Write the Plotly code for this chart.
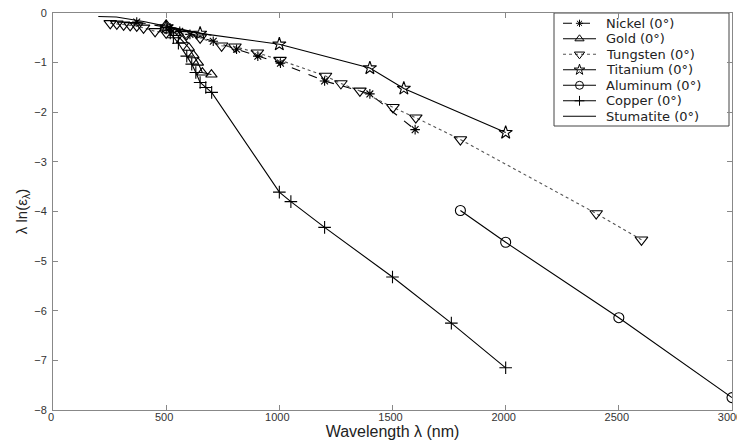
import plotly.graph_objects as go

# ---- data (wavelength nm, lambda*ln(eps)) ----
nickel_x = [370, 517, 560, 605, 708, 811, 905, 1005, 1200, 1400, 1600]
nickel_y = [-0.18, -0.30, -0.37, -0.43, -0.57, -0.73, -0.87, -1.01, -1.37, -1.63, -2.35]

gold_x = [500, 540, 570, 600, 620, 640, 660, 700]
gold_y = [-0.24, -0.40, -0.55, -0.70, -0.85, -1.00, -1.20, -1.24]

tungsten_x = [253, 282, 312, 341, 370, 400, 451, 500, 591, 650, 745, 804, 903, 1003, 1204, 1272, 1356, 1502, 1603, 1800, 2400, 2600]
tungsten_y = [-0.21, -0.22, -0.24, -0.25, -0.26, -0.30, -0.37, -0.40, -0.43, -0.50, -0.66, -0.68, -0.80, -0.95, -1.27, -1.42, -1.57, -1.90, -2.11, -2.55, -4.04, -4.57]

titanium_x = [500, 650, 1000, 1400, 1550, 2000]
titanium_y = [-0.28, -0.41, -0.63, -1.11, -1.52, -2.41]

aluminum_x = [1800, 2000, 2500, 3000]
aluminum_y = [-3.98, -4.62, -6.14, -7.75]

copper_x = [500, 518, 532, 554, 591, 613, 631, 650, 675, 701, 1000, 1051, 1200, 1500, 1760, 2000]
copper_y = [-0.30, -0.40, -0.50, -0.61, -0.87, -1.03, -1.20, -1.40, -1.50, -1.60, -3.61, -3.80, -4.32, -5.32, -6.25, -7.15]

stumatite_x = [200, 280, 400, 500, 600, 700]
stumatite_y = [-0.07, -0.08, -0.17, -0.27, -0.36, -0.45]

series_names = ["Nickel (0°)", "Gold (0°)", "Tungsten (0°)", "Titanium (0°)",
                "Aluminum (0°)", "Copper (0°)", "Stumatite (0°)"]

x_ticks = [0, 500, 1000, 1500, 2000, 2500, 3000]
y_ticks = [0, -1, -2, -3, -4, -5, -6, -7, -8]

# ---- styles ----
styles = [
    dict(symbol="asterisk-open", dash="dash", lcolor="black", size=8),
    dict(symbol="triangle-up-open", dash="solid", lcolor="black", size=10),
    dict(symbol="triangle-down-open", dash="dot", lcolor="#555555", size=11),
    dict(symbol="star-open", dash="solid", lcolor="black", size=10),
    dict(symbol="circle-open", dash="solid", lcolor="black", size=10),
    dict(symbol="cross-thin-open", dash="solid", lcolor="black", size=9),
    dict(symbol=None, dash="solid", lcolor="black", size=0),
]
data = [(nickel_x, nickel_y), (gold_x, gold_y), (tungsten_x, tungsten_y),
        (titanium_x, titanium_y), (aluminum_x, aluminum_y), (copper_x, copper_y),
        (stumatite_x, stumatite_y)]

fig = go.Figure()

for name, (x, y), st in zip(series_names, data, styles):
    if st["symbol"]:
        fig.add_trace(go.Scatter(
            x=x, y=y, name=name, mode="lines+markers", showlegend=False,
            line=dict(color=st["lcolor"], width=1.1, dash=st["dash"]),
            marker=dict(symbol=st["symbol"], size=st["size"], color="black",
                        line=dict(color="black", width=1.1)),
        ))
    else:
        fig.add_trace(go.Scatter(x=x, y=y, name=name, mode="lines", showlegend=False,
                                 line=dict(color="black", width=1.1)))

# ---- legend drawn on an overlay axis in (page) pixel units ----
PLOT_L, PLOT_R, PLOT_T, PLOT_B = 53, 732, 13, 410
L_X0, L_X1, L_Y0, L_Y1 = 554, 729, 13, 126
row_y = [23.3, 38.8, 54.3, 69.8, 85.3, 100.8, 116.3]
fig.add_shape(type="rect", xref="x2", yref="y2", x0=L_X0, x1=L_X1, y0=L_Y0, y1=L_Y1,
              line=dict(color="#444444", width=1), fillcolor="white", layer="below")
for name, st, ry in zip(series_names, styles, row_y):
    fig.add_trace(go.Scatter(
        x=[563, 596], y=[ry, ry], xaxis="x2", yaxis="y2", mode="lines",
        line=dict(color=st["lcolor"], width=1.1, dash=st["dash"]),
        showlegend=False, hoverinfo="skip", cliponaxis=False))
    if st["symbol"]:
        fig.add_trace(go.Scatter(
            x=[579.5], y=[ry], xaxis="x2", yaxis="y2", mode="markers",
            marker=dict(symbol=st["symbol"], size=st["size"] - 2, color="black",
                        line=dict(color="black", width=1.0)),
            showlegend=False, hoverinfo="skip", cliponaxis=False))
    fig.add_annotation(x=605, y=ry, xref="x2", yref="y2", text=name, showarrow=False,
                       xanchor="left", yanchor="middle", borderpad=0,
                       font=dict(family="DejaVu Sans", size=13, color="#222222"))

axis_common = dict(
    showgrid=False, zeroline=False, showline=True, linecolor="#888888", linewidth=1,
    mirror="ticks", ticks="inside", ticklen=5, tickcolor="#888888",
    tickfont=dict(family="Liberation Sans, Arial", size=11, color="#333333"),
    ticklabeloverflow="allow", automargin=False,
)

# page has an 8px body margin: figure is placed at (8, 8)
W, H = 737, 434
fig.update_layout(
    width=W, height=H,
    margin=dict(l=PLOT_L - 8, r=W - (PLOT_R - 8), t=PLOT_T - 8, b=H - (PLOT_B - 8)),
    paper_bgcolor="white", plot_bgcolor="white",
    font=dict(family="Liberation Sans, Arial", color="#222222"),
    xaxis=dict(range=[0, 3000], tickvals=x_ticks, ticklabelstandoff=-3, ticklabelshift=-2,
               title=dict(text="Wavelength λ (nm)", font=dict(size=16), standoff=0),
               **axis_common),
    yaxis=dict(range=[-8, 0], tickvals=y_ticks, ticklabelstandoff=3,
               title=dict(text="λ ln(ε<sub>λ</sub>)", font=dict(size=15), standoff=3),
               **axis_common),
    xaxis2=dict(range=[PLOT_L, PLOT_R], overlaying="x", visible=False, fixedrange=True, automargin=False),
    yaxis2=dict(range=[PLOT_B, PLOT_T], overlaying="y", visible=False, fixedrange=True, automargin=False),
    showlegend=False,
)

fig.write_html("out.html")
